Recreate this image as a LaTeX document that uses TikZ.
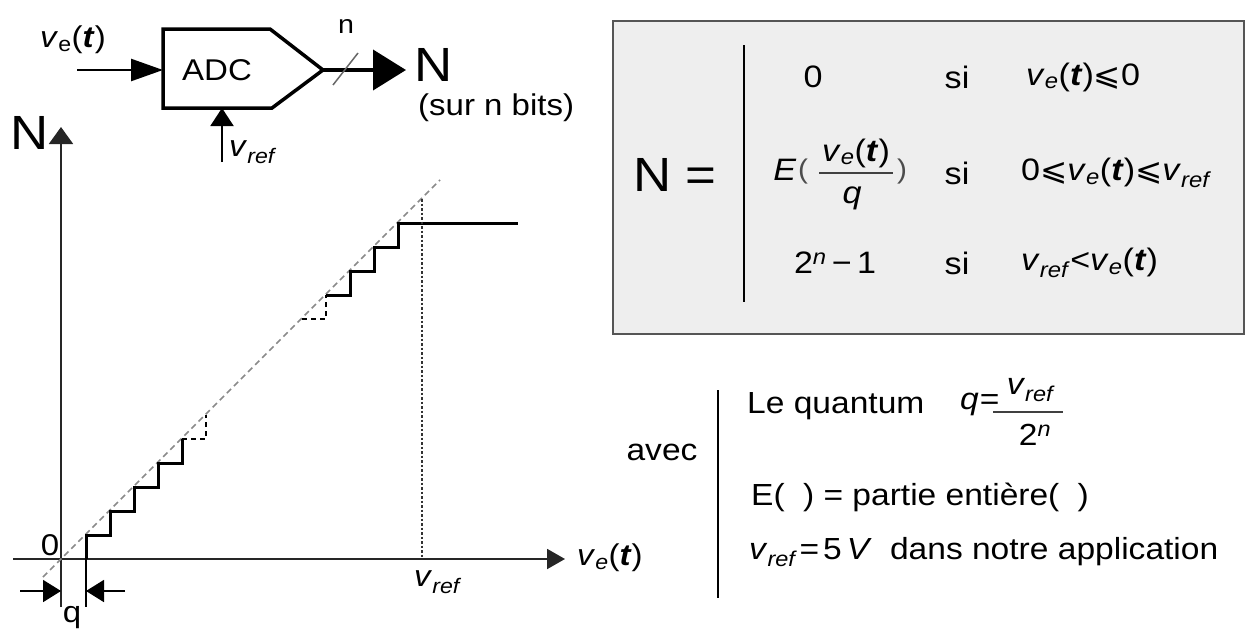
\documentclass[tikz,border=0pt]{standalone}
\usepackage{fontspec}
\setmainfont{Liberation Sans}[FakeStretch=1.1]
\newfontfamily\symfont{DejaVu Sans}[FakeStretch=1.05]
\usetikzlibrary{arrows.meta}
\newcommand\ssub[1]{\textsubscript{#1}}
\newcommand\vet{\textit{v}\ssub{\textit{e}}(\textbf{\textit{t}})}
\newcommand\vetup{\textit{v}\ssub{e}(\textbf{\textit{t}})}
\newcommand\Vref{\textit{v}\ssub{\textit{ref}}}
\newcommand\leqs{{\symfont ⩽}}
\definecolor{boxfill}{HTML}{EEEEEE}
\definecolor{boxline}{HTML}{555555}
\definecolor{diaggray}{HTML}{8A8A8A}
\begin{document}
\begin{tikzpicture}[x=1pt,y=-1pt,
  txt/.style={inner sep=0pt, font=\fontsize{30}{36}\selectfont},
  btxt/.style={inner sep=0pt, font=\fontsize{31}{37}\selectfont},
  stxt/.style={inner sep=0pt, font=\fontsize{30.5}{36}\selectfont},
  big/.style={inner sep=0pt, font=\fontsize{48}{58}\selectfont},
  axis/.style={line width=2pt, draw=black!85},
  stair/.style={line width=3pt, line join=miter},
  dstair/.style={line width=2.5pt, dash pattern=on 5pt off 4pt},
  diag/.style={line width=1.6pt, draw=diaggray, dash pattern=on 6pt off 4pt},
  vdot/.style={line width=2pt, draw=black!80, dash pattern=on 2.5pt off 2pt},
  bigtip/.style={-{Triangle[length=32pt,width=22pt]}},
  smtip/.style={-{Triangle[length=18pt,width=22pt]}},
  fracbar/.style={line width=1.6pt, draw=black!75},
]
\useasboundingbox (0,0) rectangle (1247,635);

% ---------------- ADC block ----------------
\coordinate (bTL) at (163,29);
\coordinate (bTR) at (270,29);
\coordinate (tip) at (323,70);
\coordinate (bBR) at (272,108);
\coordinate (bBL) at (163,108);
\draw[line width=3.5pt, line join=miter] (bTL) -- (bTR) -- (tip) -- (bBR) -- (bBL) -- cycle;
\node[txt] (adc) at (217,70) {ADC};
\coordinate (inL) at (77,70);
\coordinate (inR) at (163,70);
\draw[line width=2.5pt, bigtip] (inL) -- (inR);
\node[txt] (velab) at (73,40) {\vetup};
\coordinate (outR) at (406,70);
\draw[line width=4pt, -{Triangle[length=33pt,width=40pt]}] (tip) -- (outR);
\coordinate (slA) at (333,85);
\coordinate (slB) at (358,53);
\draw[line width=1.5pt, draw=black!60] (slA) -- (slB);
\node[txt, font=\fontsize{26}{32}\selectfont] (nlab) at (346,27) {n};
\node[big] (Nout) at (434,65) {N};
\node[txt, anchor=west] (sur) at (418,108) {(sur n bits)};
\coordinate (vrB) at (222,162);
\coordinate (vrT) at (222,108);
\draw[line width=2pt, -{Triangle[length=18pt,width=23pt]}] (vrB) -- (vrT);
\node[txt] (vrlab) at (253,152) {\Vref};

% ---------------- graph ----------------
\coordinate (xL) at (13,559);
\coordinate (xR) at (565,559);
\coordinate (yB) at (61,607);
\coordinate (yT) at (61,127);
\draw[axis, -{Triangle[length=18pt,width=20pt]}] (xL) -- (xR);
\draw[axis, -{Triangle[length=17pt,width=24pt]}] (yB) -- (yT);
\node[big] (Nax) at (30,133) {N};
\node[txt] (zero) at (50,545) {0};
\node[txt, anchor=west] (xlab) at (577,558) {\vet};
% diagonal
\coordinate (dA) at (43,577);
\coordinate (dB) at (440,180);
\draw[diag] (dA) -- (dB);
% lower stairs
\draw[stair] (86,559) -- (86,535) -- (110,535) -- (110,511) -- (134,511) -- (134,487)
  -- (158,487) -- (158,463) -- (182,463) -- (182,439);
\draw[dstair] (182,439) -- (206,439) -- (206,415);
% upper stairs
\draw[dstair] (302,319) -- (326,319) -- (326,295);
\draw[stair] (326,295) -- (350,295) -- (350,271) -- (374,271) -- (374,247)
  -- (398,247) -- (398,223) -- (518,223);
% vref dotted
\coordinate (vA) at (422,199);
\coordinate (vB) at (422,559);
\draw[vdot] (vA) -- (vB);
\node[txt] (vrefx) at (438,582) {\Vref};
% q dimension
\coordinate (qt) at (86,607);
\draw[line width=1.8pt] (86,559) -- (qt);
\coordinate (qL0) at (20,591);
\coordinate (qL1) at (61,591);
\coordinate (qR0) at (125,591);
\coordinate (qR1) at (86,591);
\draw[line width=1.8pt, smtip] (qL0) -- (qL1);
\draw[line width=1.8pt, smtip] (qR0) -- (qR1);
\node[txt] (qlab) at (72,618) {q};

% ---------------- formula box ----------------
\draw[line width=2pt, draw=boxline, fill=boxfill] (613,21) rectangle (1244,334);
\node[big] (Neq) at (675,175) {N =};
\draw[line width=2pt] (744,45) -- (744,302);
% row 1
\node[btxt] (r1a) at (813,77) {0};
\node[btxt] (r1b) at (957,77) {si};
\node[btxt, anchor=west] (r1c) at (1026,77) {\vet\leqs0};
% row 2
\node[btxt] (r2E) at (785,170) {\textit{E}};
\node[btxt, font=\fontsize{27}{32}\selectfont, text=black!70] (r2p1) at (803,172) {(};
\node[btxt, anchor=base] (r2num) at (856,161) {\vet};
\coordinate (r2fA) at (819,173);
\coordinate (r2fB) at (893,173);
\draw[fracbar] (r2fA) -- (r2fB);
\node[btxt, anchor=base] (r2den) at (852,203) {\textit{q}};
\node[btxt, font=\fontsize{27}{32}\selectfont, text=black!70] (r2p2) at (902,172) {)};
\node[btxt] (r2b) at (957,173) {si};
\node[btxt, anchor=west] (r2c) at (1021,173) {0\leqs\vet\leqs\Vref};
% row 3
\node[btxt] (r3a) at (835,263) {2\textsuperscript{\textit{n}}\,−\,1};
\node[btxt] (r3b) at (957,263) {si};
\node[btxt, anchor=west] (r3c) at (1021,263) {\Vref<\vet};

% ---------------- avec ----------------
\node[stxt] (avec) at (662,452) {avec};
\draw[line width=2pt] (718,390) -- (718,598);
\node[stxt, anchor=base west] (l1) at (747,413) {Le quantum};
\node[stxt, anchor=base west] (l1q) at (960,409) {\textit{q}\kern1pt=};
\coordinate (fA) at (993,412);
\coordinate (fB) at (1063,412);
\draw[fracbar] (fA) -- (fB);
\node[stxt] (fnum) at (1031,390) {\Vref};
\node[stxt] (fden) at (1035,435) {2\textsuperscript{\textit{n}}};
\node[stxt, anchor=west] (l2) at (751,497) {E(\hspace{0.6em}) = partie entière(\hspace{0.6em})};
\node[stxt, anchor=west] (l3) at (749,552) {\Vref\kern2pt=\kern4pt5\kern5pt\textit{V}\hspace{0.6em}dans notre application};
\end{tikzpicture}
\end{document}
